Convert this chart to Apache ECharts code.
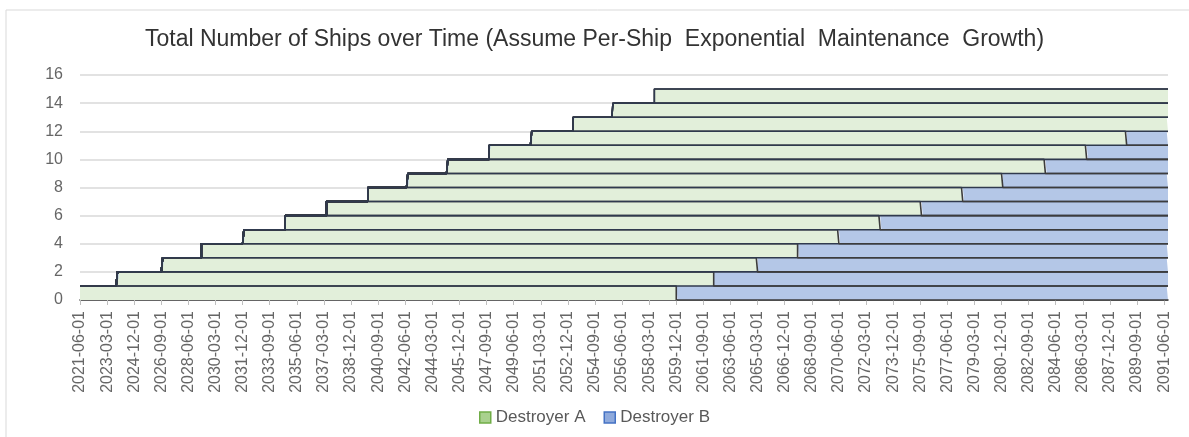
<!DOCTYPE html>
<html>
<head>
<meta charset="utf-8">
<script src="https://cdn.jsdelivr.net/npm/echarts@6/dist/echarts.min.js"></script>
<style>
  html, body { margin: 0; padding: 0; background: #fff; }
  #chart { width: 1189px; height: 437px; }
</style>
</head>
<body>
<div id="chart"></div>
<script>
  // monthly categories, first and last month on the axis
  var firstMonth = '2021-06';
  var lastMonth = '2091-09';

  // month each ship (row, bottom to top) enters service as Destroyer A
  var shipStartA = ['2021-06', '2023-11', '2026-10', '2029-04', '2032-01', '2034-09', '2037-05', '2040-01',
                    '2042-08', '2045-03', '2047-11', '2050-08', '2053-04', '2055-11', '2058-07'];
  // month each ship is replaced by a Destroyer B (null = not within the chart)
  var shipSwitchB = ['2059-12', '2062-05', '2065-03', '2067-10', '2070-06', '2073-02', '2075-10', '2078-06',
                     '2081-01', '2083-10', '2086-06', '2089-01', null, null, null];

  var yTicks = { min: 0, max: 16, interval: 2 };

  function monthIndex(ym) {
    var p = ym.split('-');
    var f = firstMonth.split('-');
    return (parseInt(p[0]) - parseInt(f[0])) * 12 + (parseInt(p[1]) - parseInt(f[1]));
  }

  var months = [];
  var nMonths = monthIndex(lastMonth) + 1;
  for (var k = 0; k < nMonths; k++) {
    var y = 2021 + Math.floor((5 + k) / 12);
    var m = (5 + k) % 12 + 1;
    months.push(y + '-' + (m < 10 ? '0' + m : m) + '-01');
  }

  var series = [];
  shipStartA.forEach(function (start, i) {
    var s = monthIndex(start);
    var sw = shipSwitchB[i] ? monthIndex(shipSwitchB[i]) : Infinity;
    var aData = [], bData = [];
    for (var k = 0; k < nMonths; k++) {
      aData.push(k >= s && k < sw ? 1 : 0);
      bData.push(k >= sw ? 1 : 0);
    }
    series.push({
      name: 'Destroyer A', type: 'line', stack: 'ships', step: 'end',
      data: aData, showSymbol: false, silent: true,
      lineStyle: { color: '#3c3c3c', width: 1.6 },
      itemStyle: { color: '#e2efda' },
      areaStyle: { color: '#e2efda', opacity: 1 }
    });
    series.push({
      name: 'Destroyer B', type: 'line', stack: 'ships', step: 'end',
      data: bData, showSymbol: false, silent: true,
      lineStyle: { color: '#303a4e', width: 1.6 },
      itemStyle: { color: '#b4c7e7' },
      areaStyle: { color: '#b4c7e7', opacity: 1 }
    });
  });

  var chart = echarts.init(document.getElementById('chart'), null, { renderer: 'canvas' });
  chart.setOption({
    animation: false,
    backgroundColor: '#fff',
    title: {
      text: 'Total Number of Ships over Time (Assume Per-Ship  Exponential  Maintenance  Growth)',
      left: 'center',
      top: 23,
      textStyle: { fontFamily: 'Liberation Sans', fontSize: 23, fontWeight: 'normal', color: '#333333' }
    },
    legend: {
      bottom: 6,
      left: 'center',
      itemWidth: 11,
      itemHeight: 11,
      itemGap: 18,
      icon: 'rect',
      textStyle: { fontFamily: 'Liberation Sans', fontSize: 17, color: '#595959' },
      data: [
        { name: 'Destroyer A', itemStyle: { color: '#a9d18e', borderColor: '#70ad47', borderWidth: 1.5 } },
        { name: 'Destroyer B', itemStyle: { color: '#8faadc', borderColor: '#4472c4', borderWidth: 1.5 } }
      ]
    },
    grid: { left: 80, right: 21, top: 75, bottom: 137 },
    xAxis: {
      type: 'category',
      data: months,
      boundaryGap: false,
      axisLine: { lineStyle: { color: '#3c3c3c', width: 1.6 } },
      axisTick: { interval: 20, length: 5, lineStyle: { color: '#bfbfbf' } },
      axisLabel: {
        interval: 20, rotate: 90, margin: 11,
        fontFamily: 'Liberation Sans', fontSize: 16, color: '#666666'
      }
    },
    yAxis: {
      type: 'value',
      min: yTicks.min, max: yTicks.max, interval: yTicks.interval,
      axisLine: { show: false },
      axisTick: { show: false },
      splitLine: { lineStyle: { color: '#d9d9d9', width: 1.5 } },
      axisLabel: { margin: 17, fontFamily: 'Liberation Sans', fontSize: 16, color: '#666666' }
    },
    graphic: [
      { type: 'line', shape: { x1: 6, y1: 10, x2: 1189, y2: 10 }, style: { stroke: '#d9d9d9', lineWidth: 1 } },
      { type: 'line', shape: { x1: 6, y1: 10, x2: 6, y2: 437 }, style: { stroke: '#d9d9d9', lineWidth: 1 } }
    ],
    series: series
  });
</script>
</body>
</html>
